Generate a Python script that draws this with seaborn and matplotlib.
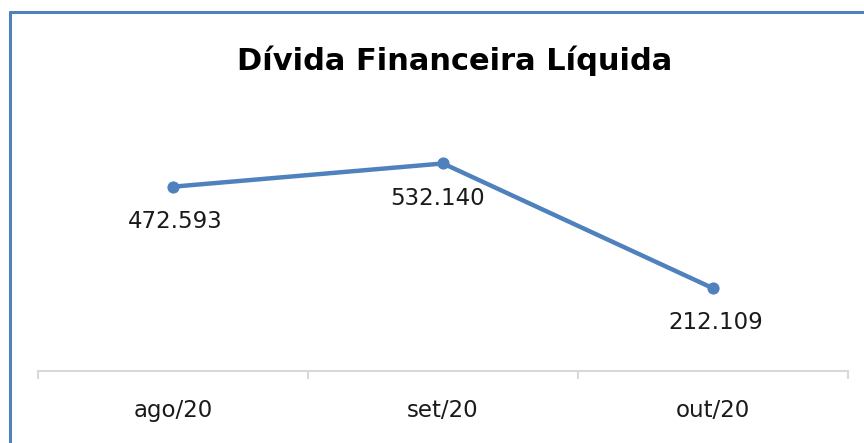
import matplotlib

matplotlib.use("Agg")

import matplotlib.pyplot as plt
import pandas as pd
import seaborn as sns
from matplotlib.lines import Line2D

months = ["ago/20", "set/20", "out/20"]
net_debt = [472.593, 532.140, 212.109]
value_labels = ["472.593", "532.140", "212.109"]

sns.set_theme(style="white")
plt.rcParams["font.family"] = ["DejaVu Sans"]

blue = "#4f81bd"
grid_grey = "#d9d9d9"

frame = pd.DataFrame({"month": months, "value": net_debt})

fig = plt.figure(figsize=(8.64, 4.43), dpi=100)
ax = fig.add_axes([38 / 864, 72 / 443, 810 / 864, 234 / 443])

sns.lineplot(
    data=frame, x="month", y="value", ax=ax, color=blue, linewidth=3.2,
    marker="o", markersize=8, markeredgecolor=blue, sort=False,
)

# label offsets in points (the middle label sits a little to the left)
label_dx = [1.5, -4, 2]
for i, (v, text) in enumerate(zip(net_debt, value_labels)):
    ax.annotate(text, (i, v), xytext=(label_dx[i], -25), textcoords="offset points",
                ha="center", va="center", fontsize=16.5, color="#1a1a1a")

ax.set_xlim(-0.5, 2.5)
ax.set_ylim(0, 600)
ax.set_xlabel("")
ax.set_ylabel("")
ax.set_yticks([])
for side in ["left", "right", "top"]:
    ax.spines[side].set_visible(False)
ax.spines["bottom"].set_color(grid_grey)
ax.spines["bottom"].set_linewidth(1.5)

ax.set_xticks([0, 1, 2])
ax.set_xticklabels(months)
ax.set_xticks([-0.5, 0.5, 1.5, 2.5], minor=True)
ax.tick_params(axis="x", which="major", length=0, pad=20, labelsize=16.5, labelcolor="#1a1a1a")
ax.tick_params(axis="x", which="minor", bottom=True, length=6, width=1.5, color=grid_grey)

fig.text(455 / 864, 1 - 61 / 443, "Dívida Financeira Líquida", ha="center", va="center",
         fontsize=22, fontweight="bold", color="black")

# chart border (only top and left edges visible in the crop)
fig.add_artist(Line2D([9.5 / 864, 9.5 / 864], [0, 1 - 12 / 443], color=blue, linewidth=2.2))
fig.add_artist(Line2D([9.5 / 864, 1], [1 - 12 / 443, 1 - 12 / 443], color=blue, linewidth=2.2))

fig.savefig("out.png", dpi=100)
